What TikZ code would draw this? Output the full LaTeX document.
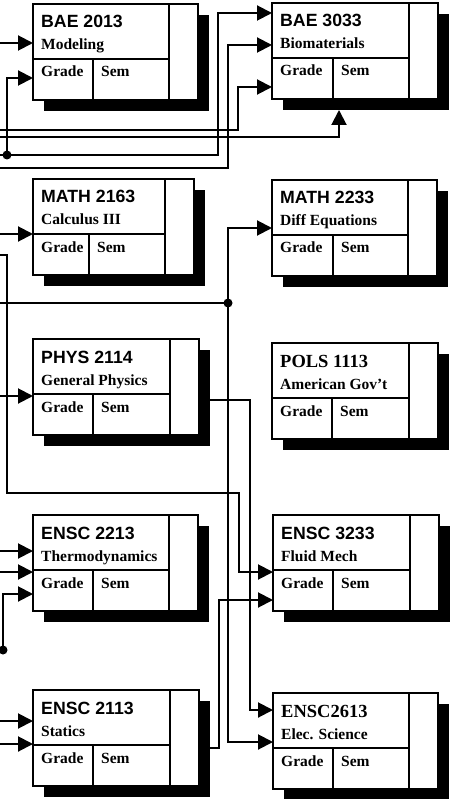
\documentclass[tikz,border=0pt]{standalone}
\usepackage{fontspec}
\setmainfont{Liberation Serif}
\newfontfamily\arialfam{Liberation Sans}
\usetikzlibrary{arrows.meta}

% title fonts for the course cards
\newcommand\titlesans{\arialfam\bfseries\fontsize{17.7}{20}\selectfont}
\newcommand\titleserif{\rmfamily\bfseries\fontsize{18.5}{20}\selectfont}

\tikzset{
  shadowbox/.style={fill=black, minimum height=96pt, anchor=north west, inner sep=0pt, outer sep=0pt},
  cardbox/.style={draw, line width=2pt, fill=white, minimum height=96pt, anchor=north west, inner sep=0pt, outer sep=0pt},
  divider/.style={line width=2pt},
  titletext/.style={anchor=base west, inner sep=0pt},
  subtext/.style={anchor=base west, inner sep=0pt, font=\bfseries\fontsize{15.5}{17}\selectfont},
  wire/.style={line width=2pt, line join=miter},
  arr/.style={wire, -{Triangle[length=15pt 0 0,width=15pt 0 0]}},
  junction/.style={fill=black}
}

% #1 name, #2 left, #3 top, #4 width, #5 grade/sem split, #6 title font, #7 title, #8 subtitle
\newcommand\coursecard[8]{%
  \node[shadowbox, minimum width=#4pt] (#1s) at (#2+11,#3+11) {};
  \node[cardbox, minimum width=#4pt] (#1) at (#2,#3) {};
  \draw[divider] (#2,#3+55) -- (#2+#4-29,#3+55);
  \draw[divider] (#2+#4-29,#3) -- (#2+#4-29,#3+96);
  \draw[divider] (#2+#5,#3+55) -- (#2+#5,#3+96);
  \node[titletext, font=#6] (#1t) at (#2+8,#3+24) {#7};
  \node[subtext] (#1n) at (#2+8,#3+46) {#8};
  \node[subtext] (#1g) at (#2+8,#3+73) {Grade};
  \node[subtext] (#1m) at (#2+#5+8,#3+73) {Sem};
}

\begin{document}
\begin{tikzpicture}[x=1pt, y=-1pt]
\useasboundingbox (0,0) rectangle (451,799);

% course cards, left column
\coursecard{bae2013}{33}{4}{165}{60}{\titlesans}{BAE 2013}{Modeling}
\coursecard{math2163}{33}{179}{161}{56}{\titlesans}{MATH 2163}{Calculus III}
\coursecard{phys2114}{33}{339}{166}{60}{\titlesans}{PHYS 2114}{General Physics}
\coursecard{ensc2213}{33}{515}{165}{60}{\titlesans}{ENSC 2213}{Thermodynamics}
\coursecard{ensc2113}{33}{690}{166}{60}{\titlesans}{ENSC 2113}{Statics}

% course cards, right column
\coursecard{bae3033}{272}{3}{166}{61}{\titlesans}{BAE 3033}{Biomaterials}
\coursecard{math2233}{272}{180}{165}{61}{\titlesans}{MATH 2233}{Diff Equations}
\coursecard{pols1113}{272}{343}{166}{60}{\titleserif}{POLS 1113}{American Gov't}
\coursecard{ensc3233}{273}{515}{166}{60}{\titlesans}{ENSC 3233}{Fluid Mech}
\coursecard{ensc2613}{273}{693}{165}{60}{\titleserif}{ENSC2613}{Elec. Science}

% incoming lines from the left margin
\coordinate (inA) at (0,43);
\coordinate (inD) at (0,130);
\coordinate (inE) at (0,137);
\coordinate (inB) at (0,155);
\coordinate (inC) at (0,168);
\coordinate (inF) at (0,234);
\coordinate (inG) at (0,255);
\coordinate (inH) at (0,303);
\coordinate (inJ) at (0,396);
\coordinate (inK) at (0,551);
\coordinate (inL) at (0,572);
\coordinate (inM) at (0,721);
\coordinate (inN) at (0,744);

% junctions and bends
\coordinate (d1) at (7,155);
\coordinate (d2) at (228,303);
\coordinate (d3) at (3,650);
\coordinate (cB) at (218,155);
\coordinate (cC) at (228,168);
\coordinate (cD) at (238,130);
\coordinate (cE) at (339,137);
\coordinate (g1) at (7,255);
\coordinate (g2) at (7,493);
\coordinate (g3) at (239,493);
\coordinate (cI) at (250,400);
\coordinate (cN) at (219,748);

% top block
\draw[arr] (inA) -- (bae2013.west |- inA);
\draw[arr] (d1) |- ([yshift=-74pt]bae2013.north west);
\draw[arr] (inB) -- (cB) |- ([yshift=-10pt]bae3033.north west);
\draw[arr] (inC) -- (cC) |- ([yshift=-42pt]bae3033.north west);
\draw[arr] (inD) -- (cD) |- ([yshift=-84pt]bae3033.north west);
\draw[arr] (inE) -- (cE) -- (bae3033s.south -| cE);

% middle block
\draw[arr] (inF) -- (math2163.west |- inF);
\draw[wire] (inH) -- (d2);
\draw[arr] (d2) |- ([yshift=-48pt]math2233.north west);
\draw[arr] (d2) |- ([yshift=-49pt]ensc2613.north west);
\draw[arr] (inJ) -- (phys2114.west |- inJ);
\draw[arr] (inG) -- (g1) -- (g2) -- (g3) |- ([yshift=-57pt]ensc3233.north west);
\draw[arr] (phys2114.east |- cI) -- (cI) |- ([yshift=-17pt]ensc2613.north west);

% bottom block
\draw[arr] (inK) -- (ensc2213.west |- inK);
\draw[arr] (inL) -- (ensc2213.west |- inL);
\draw[arr] (d3) |- ([yshift=-79pt]ensc2213.north west);
\draw[arr] (inM) -- (ensc2113.west |- inM);
\draw[arr] (inN) -- (ensc2113.west |- inN);
\draw[arr] (ensc2113.east |- cN) -- (cN) |- ([yshift=-85pt]ensc3233.north west);

% junction dots
\fill[junction] (d1) circle[radius=4.5pt];
\fill[junction] (d2) circle[radius=4.5pt];
\fill[junction] (d3) circle[radius=4.5pt];
\end{tikzpicture}
\end{document}
